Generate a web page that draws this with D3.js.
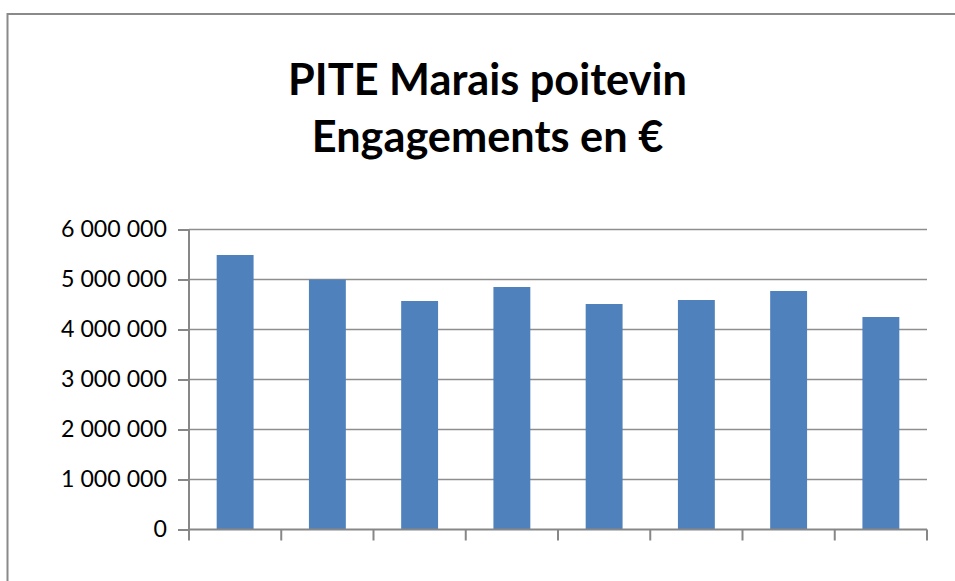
<!DOCTYPE html>
<html><head><meta charset="utf-8">
<script src="https://cdn.jsdelivr.net/npm/d3@7"></script>
<style>html,body{margin:0;padding:0;background:#fff;overflow:hidden}</style>
</head><body>
<svg id="c" width="955" height="581"></svg>
<script>
const categories = ["1","2","3","4","5","6","7","8"];
const values = [5490000, 5000000, 4570000, 4850000, 4510000, 4590000, 4770000, 4250000];
const yTicks = [0, 1000000, 2000000, 3000000, 4000000, 5000000, 6000000];
const titleLines = ["PITE Marais poitevin", "Engagements en €"];

(function () {
const svg = d3.select("#c");
const FONT = "Lato, 'Open Sans', 'Liberation Sans', sans-serif";

// chart border
svg.append("rect").attr("x", 7.5).attr("y", 14).attr("width", 1000).attr("height", 700)
  .attr("fill", "none").attr("stroke", "#8a8a8a").attr("stroke-width", 2);

const pL = 189, pR = 927, pT = 229.5, pB = 529.5;
const x = d3.scaleBand().domain(categories).range([pL, pR]).paddingInner(0.6).paddingOuter(0.3);
const y = d3.scaleLinear().domain([0, 6000000]).range([pB, pT]);

// gridlines
svg.append("g").selectAll("line").data(yTicks.slice(1)).join("line")
  .attr("x1", pL).attr("x2", pR)
  .attr("y1", d => y(d)).attr("y2", d => y(d))
  .attr("stroke", "#8e8e8e").attr("stroke-width", 1.6);

// bars
svg.append("g").selectAll("rect").data(values).join("rect")
  .attr("x", (d, i) => x(categories[i]))
  .attr("width", x.bandwidth())
  .attr("y", d => y(d))
  .attr("height", d => pB - y(d))
  .attr("fill", "#4F81BD");

// y axis
const fmt = v => d3.format(",")(v).replace(/,/g, " ");
const yAxis = d3.axisLeft(y).tickValues(yTicks).tickFormat(fmt).tickSize(11).tickPadding(11);
const gy = svg.append("g").attr("transform", `translate(${pL},0)`).call(yAxis);
gy.select(".domain").attr("stroke", "#878787").attr("stroke-width", 2).attr("d", `M0,${pT}V${pB}`);
gy.selectAll(".tick line").attr("stroke", "#878787").attr("stroke-width", 2);
const labels = gy.selectAll(".tick text").attr("font-family", FONT).attr("font-size", 24).attr("fill", "#000");
const lw = labels.filter(d => d === 6000000).node().getComputedTextLength();
labels.attr("font-size", 24 * 106 / lw);

// x axis (category boundary ticks, no labels)
const boundaries = d3.range(categories.length + 1).map(i => pL + i * (pR - pL) / categories.length);
const gx = svg.append("g");
gx.append("line").attr("x1", pL).attr("x2", pR).attr("y1", pB).attr("y2", pB)
  .attr("stroke", "#878787").attr("stroke-width", 2);
gx.selectAll("line.t").data(boundaries).join("line").attr("class", "t")
  .attr("x1", d => d).attr("x2", d => d).attr("y1", pB).attr("y2", pB + 11)
  .attr("stroke", "#878787").attr("stroke-width", 2);

// title
const t = svg.append("g");
const baselines = [95, 152];
titleLines.forEach((s, i) => {
  t.append("text").attr("x", 487.5).attr("y", baselines[i]).attr("text-anchor", "middle")
    .attr("font-family", FONT).attr("font-weight", "bold").attr("font-size", 40)
    .attr("fill", "#000").text(s);
});
const w0 = t.select("text").node().getComputedTextLength();
t.selectAll("text").attr("font-size", 40 * 399 / w0);
})();
</script>
</body></html>
